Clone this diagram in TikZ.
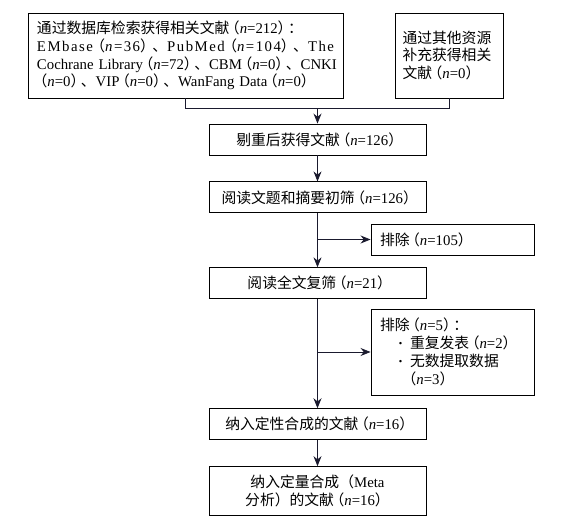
\documentclass[tikz,border=0pt]{standalone}
\usepackage{fontspec}
\setmainfont{Liberation Serif}
\newfontfamily\cjk{Noto Sans CJK SC}
\usetikzlibrary{arrows.meta,positioning,calc}
\definecolor{ink}{HTML}{1A1A2E}
\newcommand{\zh}[1]{{\cjk #1}}
\newcommand{\numn}[1]{\hspace{-0.3em}{\cjk （}\textit{n}=#1{\cjk ）}\hspace{-0.3em}}
\tikzset{
  box/.style={rectangle,draw=black,line width=0.9pt,align=center,inner sep=0pt,font=\fontsize{14.8pt}{17.8pt}\selectfont},
  stepbox/.style={box,minimum width=217pt,minimum height=31pt},
  exbox/.style={box,text width=145pt,minimum height=31pt,inner xsep=9pt,align=left},
  line/.style={line width=0.8pt,ink},
  arrow/.style={-{Stealth[length=10pt,width=8pt]},line width=0.8pt,ink}
}

\begin{document}
\begin{tikzpicture}
    \useasboundingbox (0,0) rectangle (566pt,-519pt);
    % sources
    \node[box,text width=297pt,inner xsep=9pt,minimum height=85pt,align=left] (src) at (185.5pt,-55.5pt)
      {\mbox{\zh{通过数据库检索获得相关文献}\numn{212}\zh{：}}\\
       \makebox[297pt][s]{\addfontfeature{LetterSpace=10}EMbase\hfil\numn{36}\hfil\zh{、}PubMed\hfil\numn{104}\hfil\zh{、}The}\\
       \mbox{Cochrane Library\numn{72}\zh{、}CBM\numn{0}\zh{、}CNKI}\\
       \mbox{\numn{0}\zh{、}VIP\numn{0}\zh{、}WanFang Data\numn{0}}};
    \node[box,text width=93pt,inner xsep=7.5pt,minimum height=85pt,align=left] (other) at (449pt,-55.5pt)
      {\zh{通过其他资源}\\\zh{补充获得相关}\\\mbox{\zh{文献}\numn{0}}};
    % screening steps
    \node[stepbox] (dedup) at (317.5pt,-139.5pt) {\zh{剔重后获得文献}\numn{126}};
    \node[stepbox,below=26pt of dedup] (title) {\zh{阅读文题和摘要初筛}\numn{126}};
    \node[stepbox,below=54pt of title] (full) {\zh{阅读全文复筛}\numn{21}};
    \node[stepbox,below=109pt of full] (quali) {\zh{纳入定性合成的文献}\numn{16}};
    \node[stepbox,minimum height=49pt,below=26pt of quali] (quant) {\zh{纳入定量合成（}Meta\\\zh{分析）的文献}\numn{16}};
    % exclusions
    \node[exbox] (ex1) at (452.5pt,-239.5pt) {\zh{排除}\numn{105}};
    \node[exbox,minimum height=86pt] (ex2) at (452.5pt,-352pt)
      {\zh{排除}\numn{5}\zh{：}\\
       \hspace*{18pt}\makebox[12pt][l]{\textbf{·}}\zh{重复发表}\numn{2}\\
       \hspace*{18pt}\makebox[12pt][l]{\textbf{·}}\zh{无数提取数据}\\
       \hspace*{26pt}\numn{3}};
    % connectors
    \coordinate (jn) at ($(src.south)+(0,-10pt)$);
    \draw[line] (src.south) -- (jn) -| (other.south);
    \draw[arrow] (jn -| dedup.north) -- (dedup.north);
    \draw[arrow] (dedup) -- (title);
    \draw[arrow] (title) -- (full);
    \coordinate (br1) at (title.south |- ex1.west);
    \draw[arrow] (br1) -- (ex1);
    \draw[arrow] (full) -- (quali);
    \coordinate (br2) at (full.south |- ex2.west);
    \draw[arrow] (br2) -- (ex2);
    \draw[arrow] (quali) -- (quant);
  \end{tikzpicture}
\end{document}
